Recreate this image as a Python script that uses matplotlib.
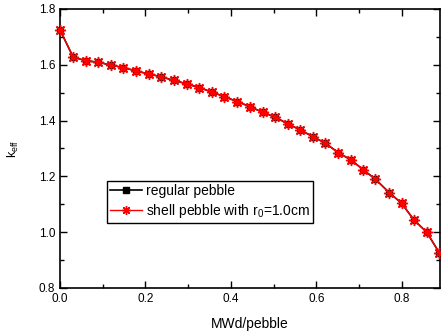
import matplotlib
matplotlib.use("Agg")
import matplotlib.pyplot as plt
from matplotlib.ticker import MultipleLocator

plt.rcParams['font.family'] = ['Liberation Sans', 'DejaVu Sans']
plt.rcParams['mathtext.fontset'] = 'custom'
plt.rcParams['mathtext.rm'] = 'Liberation Sans'

burnup = [0.000, 0.031, 0.060, 0.090, 0.119, 0.148, 0.178, 0.208, 0.237, 0.266,
          0.296, 0.326, 0.356, 0.384, 0.415, 0.444, 0.474, 0.504, 0.533, 0.562,
          0.593, 0.621, 0.651, 0.681, 0.710, 0.738, 0.770, 0.799, 0.828, 0.858,
          0.887]
keff_regular = [1.725, 1.627, 1.615, 1.609, 1.599, 1.590, 1.578, 1.567, 1.557, 1.544,
                1.532, 1.518, 1.502, 1.486, 1.468, 1.450, 1.430, 1.412, 1.388, 1.367,
                1.341, 1.319, 1.285, 1.259, 1.223, 1.190, 1.142, 1.104, 1.044, 1.000,
                0.927]
keff_shell = [1.725, 1.627, 1.615, 1.609, 1.599, 1.590, 1.578, 1.567, 1.557, 1.544,
              1.532, 1.518, 1.502, 1.486, 1.468, 1.450, 1.430, 1.412, 1.388, 1.367,
              1.341, 1.319, 1.285, 1.259, 1.223, 1.190, 1.142, 1.104, 1.044, 1.000,
              0.927]

fig = plt.figure(figsize=(4.41, 3.36), dpi=100)
ax = fig.add_axes([60 / 441, 1 - 288 / 336, 380 / 441, 279 / 336])

ax.plot(burnup, keff_regular, color="black", lw=1.2, marker="s", ms=5,
        label="regular pebble", clip_on=False, zorder=3)
ax.plot(burnup, keff_shell, color="red", lw=1.0, marker=(8, 2, 0), ms=8,
        mew=1.0, label="shell pebble with r$_0$=1.0cm", clip_on=False, zorder=4)

ax.set_xlim(0, 0.889)
ax.set_ylim(0.8, 1.8)
ax.xaxis.set_major_locator(MultipleLocator(0.2))
ax.xaxis.set_minor_locator(MultipleLocator(0.1))
ax.yaxis.set_major_locator(MultipleLocator(0.2))
ax.yaxis.set_minor_locator(MultipleLocator(0.1))
ax.tick_params(which="both", direction="in", top=True, right=True,
               labelsize=8.5, width=1.0)
ax.tick_params(which="major", length=5)
ax.tick_params(which="minor", length=3)
for s in ax.spines.values():
    s.set_linewidth(1.2)

ax.set_xlabel("MWd/pebble", fontsize=10, labelpad=9)
ax.set_ylabel(r"k$_{\mathrm{eff}}$", fontsize=9, labelpad=13)

leg = ax.legend(loc="lower left", bbox_to_anchor=(0.124, 0.234), borderaxespad=0,
                fontsize=10, fancybox=False, edgecolor="black", framealpha=1,
                handlelength=2.3, handletextpad=0.3, borderpad=0.2, labelspacing=0.3,
                markerscale=0.8)
leg.get_frame().set_linewidth(1.0)

fig.savefig("out.png", dpi=100)
